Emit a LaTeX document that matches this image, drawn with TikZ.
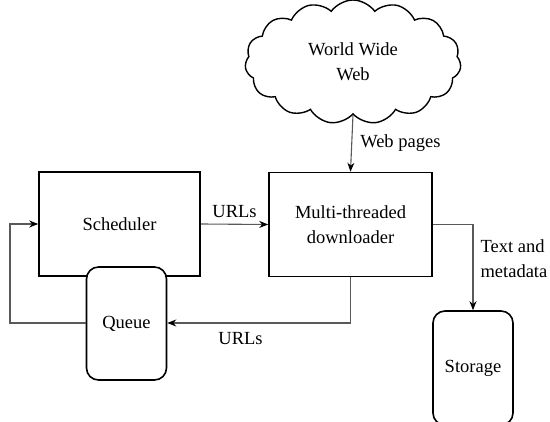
\documentclass[tikz,border=0pt]{standalone}
\usepackage{fontspec}
\setmainfont{Liberation Serif}
\usetikzlibrary{shapes.symbols, arrows.meta}

\tikzset{
	block/.style = {draw = black, line width = 1.6pt, fill = white, minimum width = 161pt, minimum height = 104pt, align = center},
	store/.style = {draw = black, line width = 1.6pt, fill = white, rounded corners = 12pt, minimum width = 80pt, minimum height = 113pt},
	flow/.style = {draw = black!65, line width = 1.1pt, -{Stealth[length = 9pt, width = 7pt, black]}},
	lbl/.style = {inner sep = 0pt, align = left}
}

\begin{document}
\begin{tikzpicture}[x = 1pt, y = -1pt, font = \fontsize{18.5}{25}\selectfont]
	
	\useasboundingbox (0, 0) rectangle (550, 422);
	
	% The cloud
	
	\node [cloud, draw = black, line width = 1.4pt, cloud puffs = 15, cloud puff arc = 110, cloud ignores aspect, minimum width = 216pt, minimum height = 124pt, align = center] (web) at (353, 62) {World Wide\\Web};
	
	% The boxes
	
	\node [block] (sched) at (119.5, 224) {Scheduler};
	\node [block, minimum width = 163pt] (down) at (350.5, 224.5) {Multi-threaded\\downloader};
	\node [store] (queue) at (126.5, 323.5) {Queue};
	\node [store, minimum height = 114pt] (storage) at (473, 368) {Storage};
	
	% Turning points
	
	\coordinate (back) at (10, 323);
	
	% The flows
	
	\draw [flow] (web.south) -- (down.north) node [lbl, midway, right = 8pt] {Web pages};
	\draw [flow] (sched.east) -- (down.west) node [lbl, midway, above = 6pt] {URLs};
	\draw [flow] (down.south) |- (queue.east |- back) node [lbl, pos = 0.8, below = 9pt] {URLs};
	\draw [flow] (queue.west |- back) -- (back) |- (sched.west);
	\draw [flow] (down.east) -| (storage.north) node [lbl, pos = 0.7, right = 7pt] {Text and\\metadata};
	
\end{tikzpicture}
\end{document}
